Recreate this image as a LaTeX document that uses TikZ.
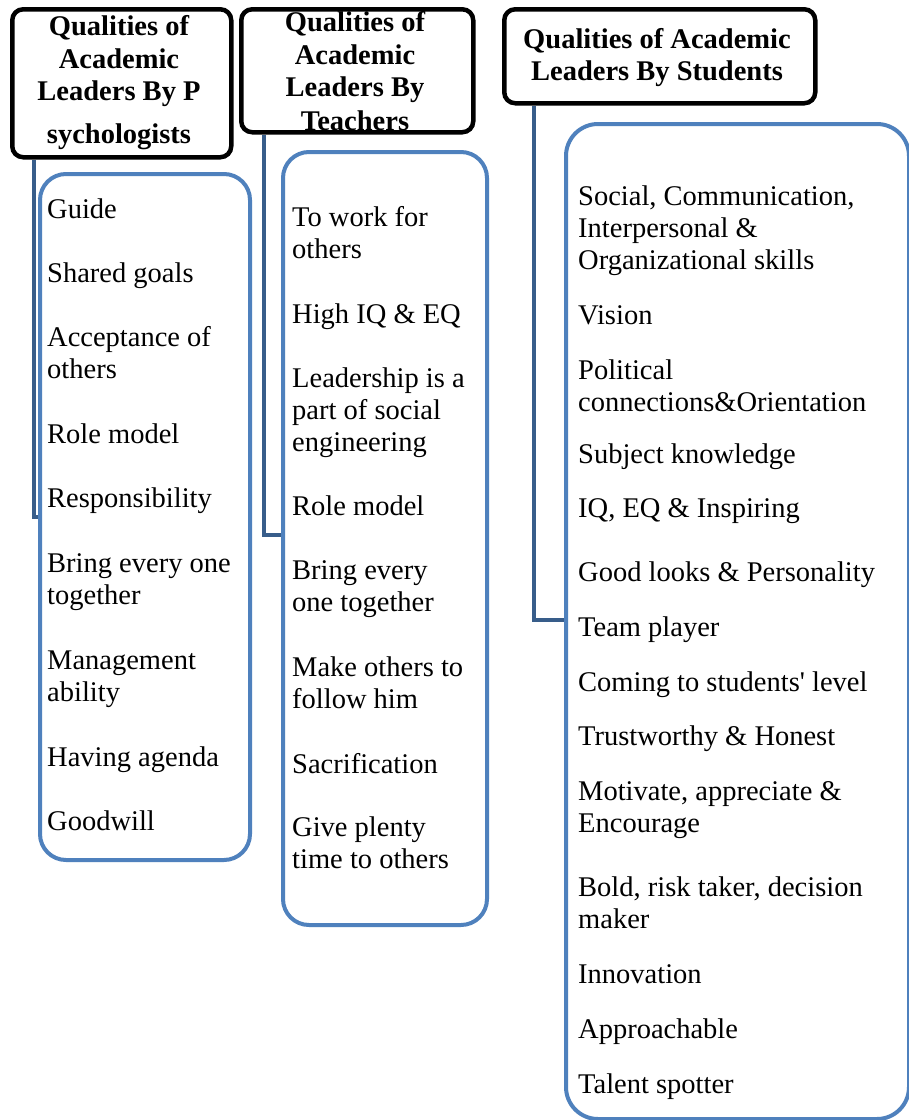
\documentclass[tikz,border=0pt]{standalone}
\usepackage{fontspec}
\setmainfont{Liberation Serif}
\definecolor{boxblue}{RGB}{79,129,189}
\definecolor{linkblue}{RGB}{56,93,138}
\tikzset{
  hdr/.style={draw=black, line width=4.5pt, rounded corners=11pt, fill=white, inner sep=0pt, anchor=north west},
  listbox/.style={draw=boxblue, line width=4pt, rounded corners=26pt, fill=white, inner sep=0pt, anchor=north west},
  link/.style={draw=linkblue, line width=4pt},
  htext/.style={font=\fontsize{28.5}{32.5}\selectfont\bfseries, inner sep=0pt, anchor=base},
  item/.style={font=\fontsize{28.5}{32}\selectfont, align=left, inner sep=0pt, anchor=base west},
}
\begin{document}
\begin{tikzpicture}[x=1pt,y=-1pt]
\clip (0,0) rectangle (909,1120);
\fill[white] (0,0) rectangle (909,1120);

% list boxes
\node[listbox, minimum width=210pt, minimum height=686pt] (b1) at (38,172) {};
\node[listbox, minimum width=204pt, minimum height=773pt] (b2) at (281,150) {};
\node[listbox, minimum width=343pt, minimum height=995pt, rounded corners=32pt] (b3) at (564,122) {};

% header boxes
\node[hdr, minimum width=219pt, minimum height=148pt] (h1) at (10,7) {};
\node[hdr, minimum width=232pt, minimum height=123pt] (h2) at (239,7) {};
\node[hdr, minimum width=311pt, minimum height=94pt] (h3) at (502,7) {};

% connectors
\draw[link] ([xshift=24pt]h1.south west) |- ([yshift=-345pt]b1.north west);
\draw[link] ([xshift=25pt]h2.south west) |- ([yshift=-385pt]b2.north west);
\draw[link] ([xshift=32pt]h3.south west) |- ([yshift=-498pt]b3.north west);

% header texts
\node[htext] (t1a) at (119,35) {Qualities of};
\node[htext] (t1b) at (119,68) {Academic};
\node[htext] (t1c) at (119,100) {Leaders By P};
\node[htext] (t1d) at (119,143) {sychologists};

\begin{scope}
\clip[rounded corners=9pt] ([shift={(2.5pt,-2.5pt)}]h2.north west) rectangle ([shift={(-2.5pt,2.5pt)}]h2.south east);
\node[htext] (t2a) at (355,31) {Qualities of};
\node[htext] (t2b) at (355,64) {Academic};
\node[htext] (t2c) at (355,96) {Leaders By};
\node[htext] (t2d) at (355,130) {Teachers};
\end{scope}

\node[htext] (t3a) at (657,48) {Qualities of Academic};
\node[htext] (t3b) at (657,80) {Leaders By Students};

% left column (coordinates give the baseline of the last line)
\node[item] (p1) at (47,218) {Guide};
\node[item] (p2) at (47,282) {Shared goals};
\node[item] (p3) at (47,378) {Acceptance of\\others};
\node[item] (p4) at (47,443) {Role model};
\node[item] (p5) at (47,507) {Responsibility};
\node[item] (p6) at (47,604) {Bring every one\\together};
\node[item] (p7) at (47,701) {Management\\ability};
\node[item] (p8) at (47,766) {Having agenda};
\node[item] (p9) at (47,830) {Goodwill};

% middle column
\node[item] (q1) at (292,258) {To work for\\others};
\node[item] (q2) at (292,323) {High IQ \& EQ};
\node[item] (q3) at (292,451) {Leadership is a\\part of social\\engineering};
\node[item] (q4) at (292,515) {Role model};
\node[item] (q5) at (292,611) {Bring every\\one together};
\node[item] (q6) at (292,708) {Make others to\\follow him};
\node[item] (q7) at (292,773) {Sacrification};
\node[item] (q8) at (292,868) {Give plenty\\time to others};

% right column
\node[item] (r1) at (578,269) {Social, Communication,\\Interpersonal \&\\Organizational skills};
\node[item] (r2) at (578,324) {Vision};
\node[item] (r3) at (578,411) {Political\\connections\&Orientation};
\node[item] (r4) at (578,463) {Subject knowledge};
\node[item] (r5) at (578,517) {IQ, EQ \& Inspiring};
\node[item] (r6) at (578,581) {Good looks \& Personality};
\node[item] (r7) at (578,636) {Team player};
\node[item] (r8) at (578,691) {Coming to students\textquotesingle{} level};
\node[item] (r9) at (578,745) {Trustworthy \& Honest};
\node[item] (r10) at (578,832) {Motivate, appreciate \&\\Encourage};
\node[item] (r11) at (578,928) {Bold, risk taker, decision\\maker};
\node[item] (r12) at (578,983) {Innovation};
\node[item] (r13) at (578,1038) {Approachable};
\node[item] (r14) at (578,1093) {Talent spotter};
\end{tikzpicture}
\end{document}
